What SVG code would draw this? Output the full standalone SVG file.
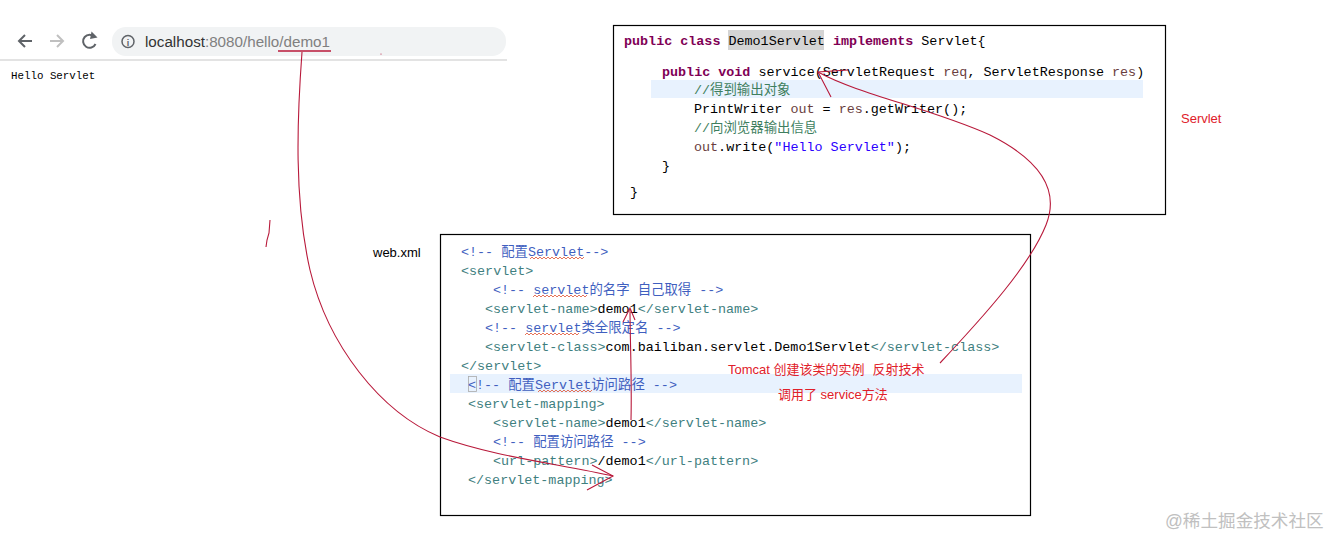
<svg xmlns="http://www.w3.org/2000/svg" width="1331" height="537" viewBox="0 0 1331 537">
<style>
.mono{font-family:"Liberation Mono","Noto Sans CJK SC",monospace;font-size:13.4px;}
.sans{font-family:"Liberation Sans","Noto Sans CJK SC",sans-serif;}
.kw{fill:#7f0055;font-weight:bold;}
.cm{fill:#3f7f5f;}
.var{fill:#6a3e3e;}
.str{fill:#2a00ff;}
.tag{fill:#3f7f7f;}
.xc{fill:#3f5fbf;}
.red{fill:#e0202a;font-size:13px;}
.box{fill:#fff;stroke:#000;stroke-width:1.2;}
.conn{fill:none;stroke:#b8193a;stroke-width:1.1;}
.sq{fill:none;stroke:#e05030;stroke-width:0.8;}
</style>
<rect width="1331" height="537" fill="#fff"/>

<g id="browser">
  <path d="M32,41 H19 M25,35 L19,41 L25,47" fill="none" stroke="#5f6368" stroke-width="2"/>
  <path d="M50,41 H63 M57,35 L63,41 L57,47" fill="none" stroke="#c0c0c0" stroke-width="2"/>
  <path d="M94.5,37 A6.5,6.5 0 1 0 95.5,44" fill="none" stroke="#5f6368" stroke-width="2"/>
  <path d="M92,33 L96,37 L91,38 Z" fill="#5f6368" stroke="#5f6368" stroke-width="1.5"/>
  <rect x="112" y="27" width="394" height="29" rx="14" fill="#f1f3f4"/>
  <circle cx="128" cy="41.5" r="6" fill="none" stroke="#5f6368" stroke-width="1.5"/>
  <text x="128" y="45.5" text-anchor="middle" class="sans" font-size="9" font-weight="bold" fill="#5f6368">i</text>
  <text x="145" y="47" class="sans" font-size="15.2px" fill="#333">localhost<tspan fill="#808080">:8080/hello/demo1</tspan></text>
  <line x1="0" y1="60" x2="507" y2="60" stroke="#c8c8c8" stroke-width="1.2"/>
  <text x="11" y="79" font-family="Liberation Mono, monospace" font-size="10.8px" fill="#000">Hello Servlet</text>
</g>

<g id="servlet-code">
  <rect class="box" x="613.5" y="25.5" width="552" height="189"/>
  <rect x="728" y="30" width="96" height="20" fill="#d4d4d4"/>
  <rect x="651" y="80" width="492" height="18" fill="#e8f2fe"/>
  <text class="mono" x="624" y="45"><tspan class="kw">public class</tspan> Demo1Servlet <tspan class="kw">implements</tspan> Servlet{</text>
  <text class="mono" x="662" y="76"><tspan class="kw">public void</tspan> service(ServletRequest <tspan class="var">req</tspan>, ServletResponse <tspan class="var">res</tspan>)</text>
  <text class="mono cm" x="694" y="94">//得到输出对象</text>
  <text class="mono" x="694" y="113">PrintWriter <tspan class="var">out</tspan> = <tspan class="var">res</tspan>.getWriter();</text>
  <text class="mono cm" x="694" y="132">//向浏览器输出信息</text>
  <text class="mono" x="694" y="151"><tspan class="var">out</tspan>.write(<tspan class="str">"Hello Servlet"</tspan>);</text>
  <text class="mono" x="662" y="170">}</text>
  <text class="mono" x="630" y="196">}</text>
</g>

<g id="servlet-label">
  <text class="sans red" x="1181" y="123">Servlet</text>
</g>

<g id="webxml-label">
  <text class="sans" x="373" y="257" font-size="13px" fill="#000">web.xml</text>
</g>

<g id="webxml">
  <rect class="box" x="440.5" y="234.5" width="590" height="281"/>
  <rect x="450" y="374" width="572" height="19" fill="#e8f2fe"/>
  <rect x="468.5" y="376.5" width="8" height="15" fill="none" stroke="#aaa" stroke-width="0.8"/>
  <text class="mono xc" x="461" y="256">&lt;!-- 配置Servlet--&gt;</text>
  <text class="mono tag" x="461" y="275">&lt;servlet&gt;</text>
  <text class="mono xc" x="493" y="294">&lt;!-- servlet的名字 自己取得 --&gt;</text>
  <text class="mono tag" x="485" y="313">&lt;servlet-name&gt;<tspan fill="#000">demo1</tspan>&lt;/servlet-name&gt;</text>
  <text class="mono xc" x="485" y="332">&lt;!-- servlet类全限定名 --&gt;</text>
  <text class="mono tag" x="485" y="351">&lt;servlet-class&gt;<tspan fill="#000">com.bailiban.servlet.Demo1Servlet</tspan>&lt;/servlet-class&gt;</text>
  <text class="mono tag" x="461" y="370">&lt;/servlet&gt;</text>
  <text class="mono xc" x="468" y="389">&lt;!-- 配置Servlet访问路径 --&gt;</text>
  <text class="mono tag" x="468" y="408">&lt;servlet-mapping&gt;</text>
  <text class="mono tag" x="493" y="427">&lt;servlet-name&gt;<tspan fill="#000">demo1</tspan>&lt;/servlet-name&gt;</text>
  <text class="mono xc" x="493" y="446">&lt;!-- 配置访问路径 --&gt;</text>
  <text class="mono tag" x="493" y="465">&lt;url-pattern&gt;<tspan fill="#000">/demo1</tspan>&lt;/url-pattern&gt;</text>
  <text class="mono tag" x="468" y="484">&lt;/servlet-mapping&gt;</text>
  <path class="sq" d="M530,259 l2,-2 l2,2 l2,-2 l2,2 l2,-2 l2,2 l2,-2 l2,2 l2,-2 l2,2 l2,-2 l2,2 l2,-2 l2,2 l2,-2 l2,2 l2,-2 l2,2 l2,-2 l2,2 l2,-2 l2,2 l2,-2 l2,2 l2,-2 l2,2 l2,-2"/>
  <path class="sq" d="M533,297 l2,-2 l2,2 l2,-2 l2,2 l2,-2 l2,2 l2,-2 l2,2 l2,-2 l2,2 l2,-2 l2,2 l2,-2 l2,2 l2,-2 l2,2 l2,-2 l2,2 l2,-2 l2,2 l2,-2 l2,2 l2,-2 l2,2 l2,-2 l2,2 l2,-2"/>
  <path class="sq" d="M525,335 l2,-2 l2,2 l2,-2 l2,2 l2,-2 l2,2 l2,-2 l2,2 l2,-2 l2,2 l2,-2 l2,2 l2,-2 l2,2 l2,-2 l2,2 l2,-2 l2,2 l2,-2 l2,2 l2,-2 l2,2 l2,-2 l2,2 l2,-2 l2,2 l2,-2"/>
  <path class="sq" d="M538,392 l2,-2 l2,2 l2,-2 l2,2 l2,-2 l2,2 l2,-2 l2,2 l2,-2 l2,2 l2,-2 l2,2 l2,-2 l2,2 l2,-2 l2,2 l2,-2 l2,2 l2,-2 l2,2 l2,-2 l2,2 l2,-2 l2,2 l2,-2 l2,2 l2,-2"/>
</g>

<g id="notes">
  <text class="sans red" x="728" y="374">Tomcat 创建该类的实例<tspan dx="8">反射技术</tspan></text>
  <text class="sans red" x="778" y="399">调用了 service方法</text>
</g>

<g id="connectors">
  <line x1="278" y1="51" x2="331" y2="51" stroke="#b8193a" stroke-width="1.3"/>
  <path class="conn" d="M302,52 C297,120 294,200 310,270 C328,345 380,412 440,437 C495,457 560,464 613,476"/>
  <path class="conn" d="M592,465 L613,476 L587,490"/>
  <path class="conn" d="M270,220 L269,233 L267,240 L266,247"/>
  <circle cx="381" cy="54" r="0.6" fill="#b8193a"/>
  <path class="conn" d="M631,420 C632,380 630,340 630,309"/>
  <path class="conn" d="M623,322 L630,308 L635,320"/>
  <path class="conn" d="M940,363 C985,315 1030,265 1046,225 C1060,190 1040,160 990,135 C930,108 860,95 818,72"/>
  <path class="conn" d="M831,97 L818,72 L848,70"/>
</g>

<g id="watermark">
  <text class="sans" x="1165" y="527" font-size="17.6px" fill="#c0c0c0">@稀土掘金技术社区</text>
</g>
</svg>
